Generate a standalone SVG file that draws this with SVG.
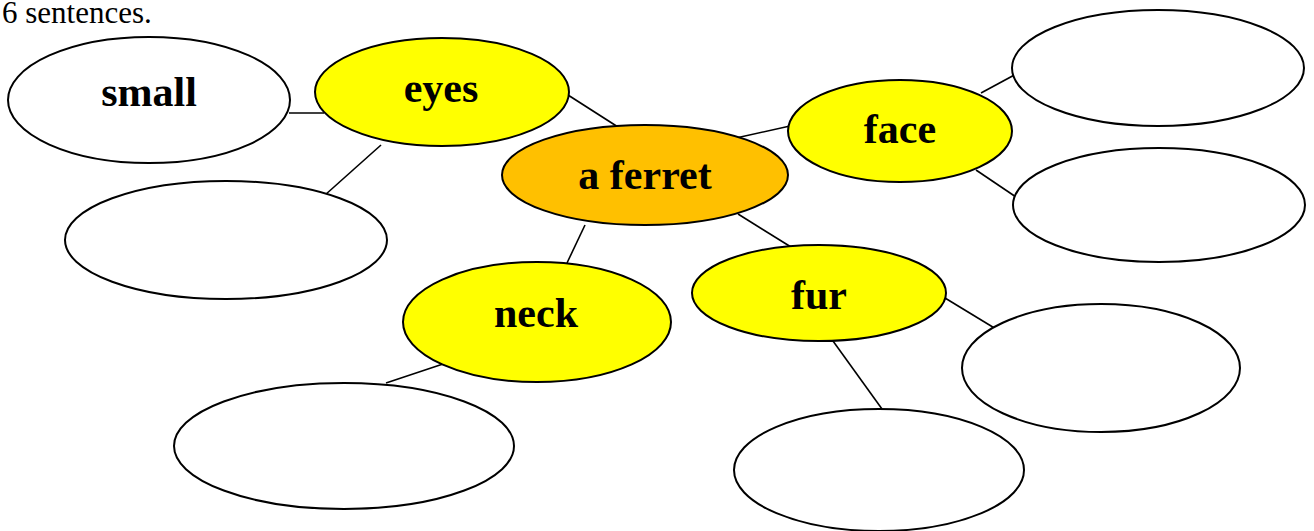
<svg xmlns="http://www.w3.org/2000/svg" width="1314" height="531" viewBox="0 0 1314 531">
<style>
.n{stroke:#000;stroke-width:2}
.w{fill:#fff}
.y{fill:#ffff00}
.o{fill:#ffc000}
.t{font-family:"Liberation Serif",serif;font-weight:bold;font-size:42px;text-anchor:middle;fill:#000}
.c line{stroke:#000;stroke-width:1.6}
</style>
<rect width="1314" height="531" fill="#fff"/>
<text x="2" y="23" font-family="'Liberation Serif',serif" font-size="31" fill="#000">6 sentences.</text>
<g class="c">
<line x1="289" y1="113" x2="324" y2="113"/>
<line x1="381" y1="145" x2="325" y2="195"/>
<line x1="568" y1="95" x2="618" y2="127"/>
<line x1="736" y1="138" x2="790" y2="126"/>
<line x1="981" y1="93" x2="1018" y2="73"/>
<line x1="976" y1="170" x2="1016" y2="197"/>
<line x1="738" y1="214" x2="791" y2="247"/>
<line x1="585" y1="225" x2="567" y2="263"/>
<line x1="446" y1="363" x2="386" y2="383"/>
<line x1="945" y1="298" x2="996" y2="329"/>
<line x1="833" y1="341" x2="882" y2="409"/>
</g>
<g id="small"><ellipse class="n w" cx="149" cy="100" rx="141" ry="63"/><text class="t" x="149" y="106">small</text></g>
<g id="eyes"><ellipse class="n y" cx="442" cy="92" rx="127" ry="54"/><text class="t" x="441" y="102">eyes</text></g>
<g id="eyes-blank"><ellipse class="n w" cx="226" cy="240" rx="161" ry="59"/></g>
<g id="ferret"><ellipse class="n o" cx="645" cy="175" rx="143" ry="50"/><text class="t" x="645" y="189">a ferret</text></g>
<g id="face"><ellipse class="n y" cx="900" cy="131" rx="112" ry="51"/><text class="t" x="900" y="143">face</text></g>
<g id="face-blank1"><ellipse class="n w" cx="1158" cy="68" rx="146" ry="58"/></g>
<g id="face-blank2"><ellipse class="n w" cx="1159" cy="205" rx="146" ry="57"/></g>
<g id="fur"><ellipse class="n y" cx="819" cy="293" rx="127" ry="48"/><text class="t" x="819" y="309">fur</text></g>
<g id="fur-blank1"><ellipse class="n w" cx="1101" cy="368" rx="139" ry="64"/></g>
<g id="fur-blank2"><ellipse class="n w" cx="879" cy="470" rx="145" ry="61"/></g>
<g id="neck"><ellipse class="n y" cx="537" cy="322" rx="134" ry="60"/><text class="t" x="536" y="327">neck</text></g>
<g id="neck-blank"><ellipse class="n w" cx="344" cy="446" rx="170" ry="63"/></g>
</svg>
